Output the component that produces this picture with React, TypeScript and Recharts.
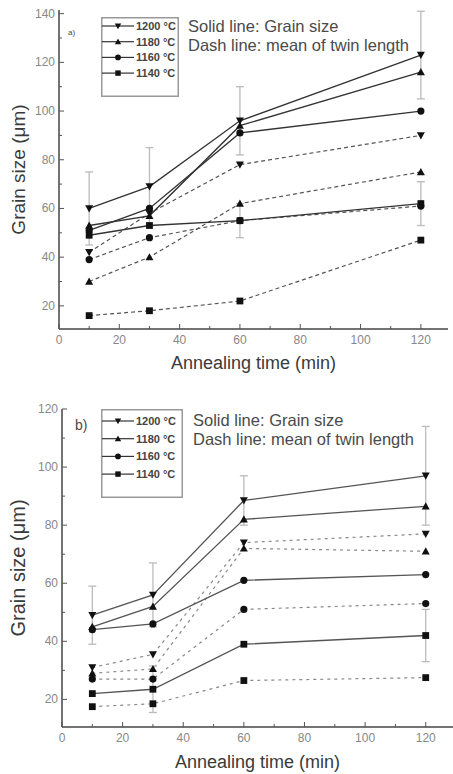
import React from 'react';
import { LineChart, Line, XAxis, YAxis, ErrorBar, Legend } from 'recharts';

const times = [10, 30, 60, 120];
const temps = ['1200 °C', '1180 °C', '1160 °C', '1140 °C'];
const markers = ['down', 'up', 'circle', 'square'];

// panel a) grain size (solid) and mean twin length (dashed), µm
const aGrain1200 = [60, 69, 96, 123];
const aGrain1180 = [53, 57, 94, 116];
const aGrain1160 = [51, 60, 91, 100];
const aGrain1140 = [49, 53, 55, 62];
const aTwin1200 = [42, 58, 78, 90];
const aTwin1180 = [30, 40, 62, 75];
const aTwin1160 = [39, 48, 55, 61];
const aTwin1140 = [16, 18, 22, 47];
const aErr1200 = [15, 16, 14, 18];
const aErr1140 = [0, 0, 7, 9];

// panel b)
const bGrain1200 = [49, 56, 88.5, 97];
const bGrain1180 = [45, 52, 82, 86.5];
const bGrain1160 = [44, 46, 61, 63];
const bGrain1140 = [22, 23.5, 39, 42];
const bTwin1200 = [31, 35.5, 74, 77];
const bTwin1180 = [29, 30.5, 72, 71];
const bTwin1160 = [27, 27, 51, 53];
const bTwin1140 = [17.5, 18.5, 26.5, 27.5];
const bErr1200 = [10, 11, 8.5, 17];
const bErr1140 = [0, 8, 0, 9];

const xTicks = [0, 10, 20, 30, 40, 50, 60, 70, 80, 90, 100, 110, 120];
const aYTicks = [20, 30, 40, 50, 60, 70, 80, 90, 100, 110, 120, 130, 140];
const bYTicks = [20, 30, 40, 50, 60, 70, 80, 90, 100, 110, 120];

const FONT = '"Liberation Sans", Arial, sans-serif';

const buildRows = (grain: number[][], twin: number[][], e1200: number[], e1140: number[]) =>
  times.map((t, i) => ({
    t,
    g0: grain[0][i], g1: grain[1][i], g2: grain[2][i], g3: grain[3][i],
    d0: twin[0][i], d1: twin[1][i], d2: twin[2][i], d3: twin[3][i],
    e0: e1200[i], e3: e1140[i],
  }));

const aRows = buildRows(
  [aGrain1200, aGrain1180, aGrain1160, aGrain1140],
  [aTwin1200, aTwin1180, aTwin1160, aTwin1140],
  aErr1200, aErr1140
);
const bRows = buildRows(
  [bGrain1200, bGrain1180, bGrain1160, bGrain1140],
  [bTwin1200, bTwin1180, bTwin1160, bTwin1140],
  bErr1200, bErr1140
);

function Marker({ cx, cy, kind, s = 4 }: any) {
  if (cx == null || cy == null) return null;
  const fill = '#111';
  if (kind === 'down') return <path d={`M${cx - s},${cy - s * 0.8}L${cx + s},${cy - s * 0.8}L${cx},${cy + s}Z`} fill={fill} />;
  if (kind === 'up') return <path d={`M${cx - s},${cy + s * 0.8}L${cx + s},${cy + s * 0.8}L${cx},${cy - s}Z`} fill={fill} />;
  if (kind === 'circle') return <circle cx={cx} cy={cy} r={s * 0.9} fill={fill} />;
  return <rect x={cx - s * 0.85} y={cy - s * 0.85} width={s * 1.7} height={s * 1.7} fill={fill} />;
}

const dotFor = (kind: string) => (p: any) => <Marker key={p.index} cx={p.cx} cy={p.cy} kind={kind} />;

// ticks point inwards, minor ones are shorter and unlabeled
const xTick = ({ x, y, payload }: any) => {
  const v = payload.value;
  const major = v % 20 === 0;
  return (
    <g>
      <line x1={x} x2={x} y1={y} y2={y - (major ? 5 : 3)} stroke="#555" strokeWidth={1} />
      {major && (
        <text x={x} y={y + 15} textAnchor="middle" fontSize={12} fill="#888" fontFamily={FONT}>{v}</text>
      )}
    </g>
  );
};

const yTick = ({ x, y, payload }: any) => {
  const v = payload.value;
  const major = v % 20 === 0;
  return (
    <g>
      <line x1={x} x2={x + (major ? 5 : 3)} y1={y} y2={y} stroke="#555" strokeWidth={1} />
      {major && (
        <text x={x - 4} y={y + 4} textAnchor="end" fontSize={12} fill="#888" fontFamily={FONT}>{v}</text>
      )}
    </g>
  );
};

const xTitle = (dy: number) => ({ viewBox }: any) => (
  <text x={viewBox.x + viewBox.width / 2} y={viewBox.y + dy} textAnchor="middle" dominantBaseline="central"
    fontSize={18} fill="#3a3a3a" fontFamily={FONT}>Annealing time (min)</text>
);

const yTitle = (cxAbs: number, size: number) => ({ viewBox }: any) => {
  const cy = viewBox.y + viewBox.height / 2;
  return (
    <text x={cxAbs} y={cy} transform={`rotate(-90 ${cxAbs} ${cy})`} textAnchor="middle" dominantBaseline="central"
      fontSize={size} fill="#3a3a3a" fontFamily={FONT}>Grain size (μm)</text>
  );
};

const legendBox = (w: number, h: number, firstY: number, gap: number) => () => (
  <svg width={w} height={h} style={{ display: 'block' }}>
    <rect x={0.75} y={0.75} width={w - 1.5} height={h - 1.5} fill="#fff" stroke="#999" strokeWidth={1.5} />
    {temps.map((label, i) => {
      const y = firstY + i * gap;
      return (
        <g key={label}>
          <line x1={1} x2={33} y1={y} y2={y} stroke="#333" strokeWidth={1.2} />
          <Marker cx={17} cy={y} kind={markers[i]} s={3.2} />
          <text x={35} y={y + 4} fontSize={11} fontWeight="bold" fill="#444" fontFamily={FONT}>{label}</text>
        </g>
      );
    })}
  </svg>
);

const note = (left: number, top: number, size: number, text: string) => (
  <div style={{ position: 'absolute', left, top, fontSize: size, lineHeight: 1, transform: 'translateY(-50%)', color: '#4a4a4a', fontFamily: FONT, whiteSpace: 'nowrap' }}>{text}</div>
);

function renderLines(solidStroke: string, dashStroke: string, dash: string) {
  const out: any[] = [];
  markers.forEach((m, i) => {
    out.push(
      <Line key={`d${i}`} dataKey={`d${i}`} stroke={dashStroke} strokeWidth={1.2} strokeDasharray={dash}
        dot={dotFor(m)} activeDot={false} isAnimationActive={false} legendType="none" />
    );
  });
  markers.forEach((m, i) => {
    out.push(
      <Line key={`g${i}`} dataKey={`g${i}`} stroke={solidStroke} strokeWidth={1.3}
        dot={dotFor(m)} activeDot={false} isAnimationActive={false} legendType="none">
        {(i === 0 || i === 3) && (
          <ErrorBar dataKey={`e${i}`} direction="y" width={4} stroke="#bbb" strokeWidth={1.3} isAnimationActive={false} />
        )}
      </Line>
    );
  });
  return out;
}

export default function App() {
  return (
    <div style={{ position: 'absolute', left: 0, top: 0, width: 453, height: 774, background: '#fff', fontFamily: FONT }}>
      <div style={{ position: 'absolute', left: 0, top: 0 }}>
        <LineChart width={453} height={385} data={aRows} margin={{ top: 10, right: 5, left: 0, bottom: 26 }}>
          <XAxis dataKey="t" type="number" domain={[0, 129]} ticks={xTicks} tick={xTick} tickSize={0} tickMargin={0}
            tickLine={false} stroke="#444" strokeWidth={1.5} height={30} interval={0} allowDataOverflow
            label={{ content: xTitle(34) }} />
          <XAxis xAxisId="top" orientation="top" dataKey="t" type="number" domain={[0, 129]} tick={false} tickLine={false}
            height={0} stroke="#aaa" strokeWidth={1.5} />
          <YAxis type="number" domain={[10.5, 141.5]} ticks={aYTicks} tick={yTick} tickSize={0} tickMargin={0} tickLine={false}
            stroke="#444" strokeWidth={1.5} width={59} interval={0} allowDataOverflow label={{ content: yTitle(18, 19) }} />
          <YAxis yAxisId="right" orientation="right" type="number" domain={[10.5, 141.5]} tick={false} tickLine={false}
            width={0} stroke="#aaa" strokeWidth={1.5} />
          <Legend layout="horizontal" verticalAlign="middle" align="center" content={legendBox(78, 80, 9, 15.7)}
            wrapperStyle={{ position: 'absolute', left: 101, top: 17, width: 78, height: 80 }} />
          {renderLines('#333', '#555', '4 3')}
        </LineChart>
      </div>
      <div style={{ position: 'absolute', left: 0, top: 385 }}>
        <LineChart width={453} height={389} data={bRows} margin={{ top: 24, right: 0, left: 0, bottom: 17 }}>
          <XAxis dataKey="t" type="number" domain={[0, 129]} ticks={xTicks} tick={xTick} tickSize={0} tickMargin={0}
            tickLine={false} stroke="#444" strokeWidth={1.5} height={30} interval={0} allowDataOverflow
            label={{ content: xTitle(35) }} />
          <XAxis xAxisId="top" orientation="top" dataKey="t" type="number" domain={[0, 129]} tick={false} tickLine={false}
            height={0} stroke="#aaa" strokeWidth={1.5} />
          <YAxis type="number" domain={[10.5, 120]} ticks={bYTicks} tick={yTick} tickSize={0} tickMargin={0} tickLine={false}
            stroke="#444" strokeWidth={1.5} width={62} interval={0} allowDataOverflow label={{ content: yTitle(18, 20) }} />
          <YAxis yAxisId="right" orientation="right" type="number" domain={[10.5, 120]} tick={false} tickLine={false}
            width={0} stroke="#aaa" strokeWidth={1.5} />
          <Legend layout="horizontal" verticalAlign="middle" align="center" content={legendBox(82, 89, 12, 17.7)}
            wrapperStyle={{ position: 'absolute', left: 101, top: 24, width: 82, height: 89 }} />
          {renderLines('#555', '#888', '3 4')}
        </LineChart>
      </div>
      {note(188, 26, 16.5, 'Solid line: Grain size')}
      {note(188, 45, 16.5, 'Dash line: mean of twin length')}
      {note(68, 33, 8, 'a)')}
      {note(193, 420, 16.5, 'Solid line: Grain size')}
      {note(193, 439, 16.5, 'Dash line: mean of twin length')}
      {note(75, 425, 14, 'b)')}
    </div>
  );
}
